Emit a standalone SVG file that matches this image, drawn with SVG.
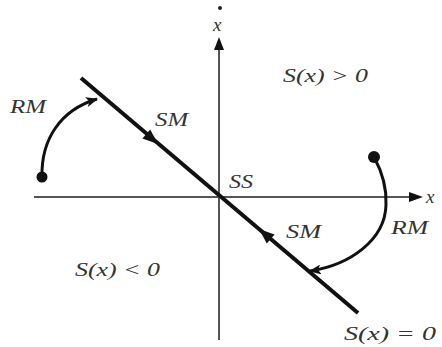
<svg xmlns="http://www.w3.org/2000/svg" width="442" height="347" viewBox="0 0 442 347">
<style>
.axis{stroke:#555;stroke-width:2;fill:none}
.slide{stroke:#111;stroke-width:4;fill:none;stroke-linecap:butt}
.reach{stroke:#111;stroke-width:3;fill:none}
.head{fill:#111}
.lbl{font-family:"Liberation Serif","Times New Roman",serif;font-style:italic;font-size:19px;fill:#333}
</style>
<defs>
<marker id="arr" viewBox="0 0 12 10" refX="11" refY="5" markerWidth="12" markerHeight="10" markerUnits="userSpaceOnUse" orient="auto">
<path d="M0,0 L12,5 L0,10 L3,5 Z" fill="#111"/>
</marker>
</defs>
<rect width="442" height="347" fill="#fff"/>
<g id="connectors">
<line class="axis" x1="219" y1="48" x2="219" y2="340"/>
<polygon class="head" points="219,37 214,50 224,50"/>
<line class="axis" x1="34" y1="197" x2="411" y2="197"/>
<polygon class="head" points="423,197 409,192 409,202"/>
<line class="slide" x1="81" y1="78" x2="358" y2="313"/>
<polygon class="head" points="158,144 142.4,138.6 150.2,129.4"/>
<polygon class="head" points="259,229 266.8,243.6 274.6,234.4"/>
<path class="reach" d="M42,177 C41,140 60,110 97,99" marker-end="url(#arr)"/>
<path class="reach" d="M374,157 C380,168 387,185 386,205 C385,240 350,265 310,271" marker-end="url(#arr)"/>
</g>
<g id="node-rm-left-start"><circle cx="42" cy="177" r="5.5" fill="#111"/></g>
<g id="node-rm-right-start"><circle cx="374" cy="157" r="6" fill="#111"/></g>
<g id="labels">
<circle cx="220" cy="8" r="2" fill="#222"/>
<text class="lbl" x="213" y="31" font-size="19">x</text>
<text class="lbl" x="426" y="203">x</text>
<text class="lbl" x="10" y="113" textLength="36" lengthAdjust="spacingAndGlyphs">RM</text>
<text class="lbl" x="155" y="126" textLength="33" lengthAdjust="spacingAndGlyphs">SM</text>
<text class="lbl" x="283" y="82" textLength="85" lengthAdjust="spacingAndGlyphs">S(x) &gt; 0</text>
<text class="lbl" x="229" y="188" font-size="16" textLength="24" lengthAdjust="spacingAndGlyphs">SS</text>
<text class="lbl" x="286" y="238" textLength="35" lengthAdjust="spacingAndGlyphs">SM</text>
<text class="lbl" x="391" y="234" textLength="37" lengthAdjust="spacingAndGlyphs">RM</text>
<text class="lbl" x="75" y="276" textLength="85" lengthAdjust="spacingAndGlyphs">S(x) &lt; 0</text>
<text class="lbl" x="344" y="340" textLength="92" lengthAdjust="spacingAndGlyphs">S(x) = 0</text>
</g>
</svg>
